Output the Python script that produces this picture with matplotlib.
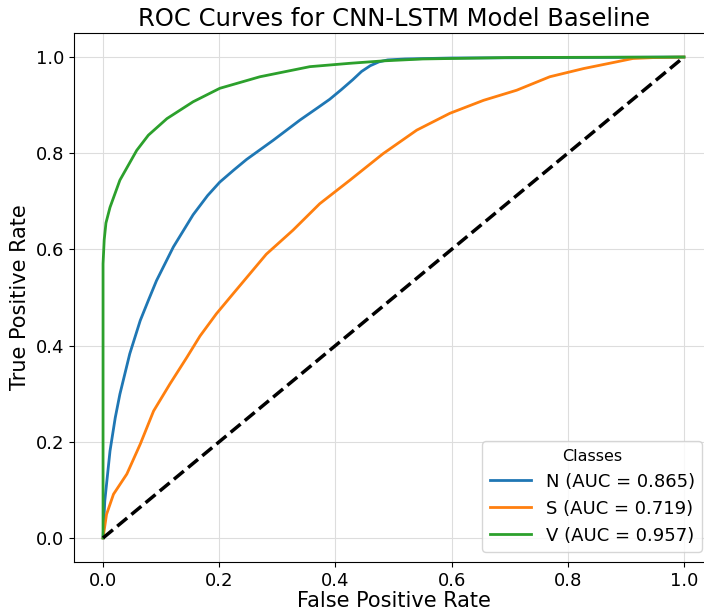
import matplotlib
matplotlib.use("Agg")
import matplotlib.pyplot as plt

# ROC points
n_fpr = [0.0, 0.003, 0.012, 0.021, 0.029, 0.046, 0.064, 0.078, 0.092, 0.121, 0.155, 0.18, 0.201, 0.225, 0.247, 0.293, 0.339, 0.37, 0.39, 0.41, 0.43, 0.445, 0.46, 0.475, 0.49, 0.52, 0.6, 0.8, 1.0]
n_tpr = [0.0, 0.077, 0.181, 0.25, 0.299, 0.383, 0.452, 0.494, 0.535, 0.605, 0.672, 0.712, 0.74, 0.765, 0.787, 0.827, 0.869, 0.895, 0.912, 0.932, 0.953, 0.97, 0.982, 0.99, 0.994, 0.996, 0.998, 0.999, 1.0]

s_fpr = [0.0, 0.006, 0.018, 0.041, 0.064, 0.087, 0.115, 0.144, 0.167, 0.195, 0.224, 0.281, 0.327, 0.373, 0.425, 0.482, 0.54, 0.597, 0.655, 0.712, 0.769, 0.827, 0.884, 0.912, 0.95, 1.0]
s_tpr = [0.0, 0.049, 0.091, 0.133, 0.195, 0.264, 0.32, 0.375, 0.42, 0.466, 0.508, 0.59, 0.64, 0.695, 0.744, 0.799, 0.848, 0.883, 0.91, 0.931, 0.959, 0.976, 0.99, 0.997, 0.999, 1.0]

v_fpr = [0.0, 0.0, 0.002, 0.005, 0.012, 0.029, 0.058, 0.078, 0.11, 0.155, 0.201, 0.27, 0.356, 0.425, 0.482, 0.55, 0.7, 1.0]
v_tpr = [0.0, 0.57, 0.62, 0.655, 0.6875, 0.744, 0.806, 0.8375, 0.872, 0.907, 0.935, 0.959, 0.98, 0.987, 0.992, 0.996, 0.999, 1.0]

labels = ["N (AUC = 0.865)", "S (AUC = 0.719)", "V (AUC = 0.957)"]
colors = ["#1f77b4", "#ff7f0e", "#2ca02c"]

fig = plt.figure(figsize=(7.04, 6.15), dpi=100)
ax = fig.add_axes([74/704, 1 - 562/615, (713 - 74)/704, (562 - 33)/615])

for fpr, tpr, lab, c in zip([n_fpr, s_fpr, v_fpr], [n_tpr, s_tpr, v_tpr], labels, colors):
    ax.plot(fpr, tpr, color=c, lw=2, label=lab)
ax.plot([0, 1], [0, 1], color="black", lw=2.5, ls="--")

ax.set_xlim(-0.05, 1.05)
ax.set_ylim(-0.05, 1.05)
ax.set_xticks([0.0, 0.2, 0.4, 0.6, 0.8, 1.0])
ax.set_yticks([0.0, 0.2, 0.4, 0.6, 0.8, 1.0])
ax.tick_params(labelsize=13)
ax.grid(True, color="#dddddd", lw=0.8)
ax.set_xlabel("False Positive Rate", fontsize=15, labelpad=1)
ax.set_ylabel("True Positive Rate", fontsize=15)
ax.set_title("ROC Curves for CNN-LSTM Model Baseline", fontsize=17.5, pad=5)
leg = ax.legend(title="Classes", loc="lower right", fontsize=13, title_fontsize=11.5,
                handlelength=2.3,
                bbox_to_anchor=((702 - 74) / 639, (562 - 552) / 529), borderaxespad=0)

fig.savefig("out.png", dpi=100)
